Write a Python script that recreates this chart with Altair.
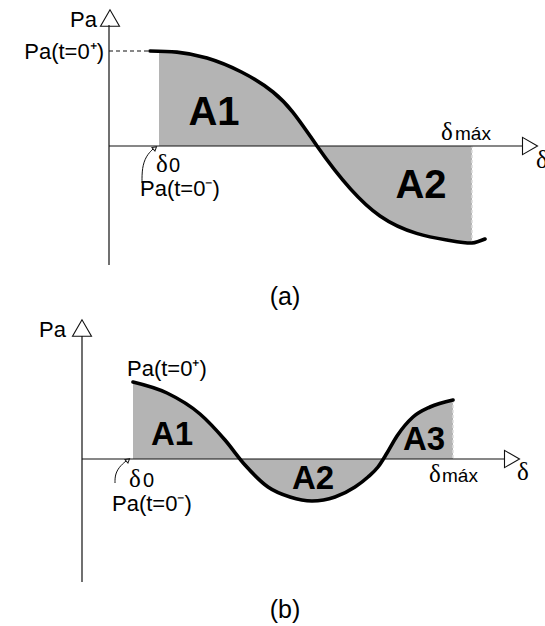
import altair as alt
import pandas as pd

W, H = 545, 626
SANS = "Liberation Sans"
SERIF = "Liberation Serif"
GRAY = "#b4b4b4"

# ---- panel (a): accelerating power curve, decelerating past the crossing
curve_a_x = [150, 207, 273, 317, 380, 447, 472, 485]
curve_a_y = [51, 58, 92, 146, 216, 240, 243, 239]
axis_a = 146          # Pa = 0 level
delta0_a, dmax_a = 159, 472

# ---- panel (b): three areas A1, A2, A3
curve_b_x = [133, 167, 200, 225, 245, 268, 290, 312, 335, 355, 368, 378, 387, 397, 413, 430, 453]
curve_b_y = [382, 393, 414, 440, 465, 487, 497, 501, 497, 487, 477, 467, 453, 436, 417, 407, 400]
axis_b = 459
delta0_b, dmax_b = 133, 453

xs = alt.Scale(domain=[0, W], range=[0, W], nice=False, zero=False)
ys = alt.Scale(domain=[0, H], reverse=True, nice=False, zero=False)


def X(f="x"):
    return alt.X(f"{f}:Q", scale=xs, axis=None)


def Y(f="y"):
    return alt.Y(f"{f}:Q", scale=ys, axis=None)


def area_df(cx, cy, base, lo, hi):
    pts = [(x, y) for x, y in zip(cx, cy) if x <= hi]
    # the shading begins at delta_0, at the height of the curve's first point
    pts = [(max(x, lo), y) for x, y in pts]
    return pd.DataFrame({"x": [p[0] for p in pts], "y": [p[1] for p in pts], "base": base})


layers = []
panels = [(curve_a_x, curve_a_y, axis_a, delta0_a, dmax_a, "natural"),
          (curve_b_x, curve_b_y, axis_b, delta0_b, dmax_b, "monotone")]

# shaded areas
for cx, cy, base, lo, hi, interp in panels:
    layers.append(alt.Chart(area_df(cx, cy, base, lo, hi)).mark_area(
        color=GRAY, interpolate=interp).encode(x=X(), y=Y(), y2="base:Q"))

# light dashed edge at delta_max
edge = pd.DataFrame({"x": [dmax_a, dmax_b], "y": [243, 400], "y2": [axis_a, axis_b]})
layers.append(alt.Chart(edge).mark_rule(color="#dcdcdc", strokeWidth=1.5, strokeDash=[3, 2]).encode(
    x=X(), y=Y(), y2="y2:Q"))

# coordinate axes
axes = pd.DataFrame({
    "x":  [109, 109, 82, 82],
    "y":  [25, axis_a, 336, axis_b],
    "x2": [109, 522, 82, 504],
    "y2": [265, axis_a, 582, axis_b],
})
layers.append(alt.Chart(axes).mark_rule(color="#111", strokeWidth=1.2).encode(
    x=X(), y=Y(), x2="x2:Q", y2="y2:Q"))

# dashed guide to Pa(t=0+)
guide = pd.DataFrame({"x": [109], "x2": [150], "y": [51]})
layers.append(alt.Chart(guide).mark_rule(color="#111", strokeWidth=1.2, strokeDash=[4, 3]).encode(
    x=X(), x2="x2:Q", y=Y()))

# hollow arrowheads at the axis ends
up = pd.DataFrame({"x": [110, 82], "y": [18, 328]})
layers.append(alt.Chart(up).mark_point(shape="triangle-up", size=360, filled=False,
                                       color="#111", strokeWidth=1.1, opacity=1).encode(x=X(), y=Y()))
right = pd.DataFrame({"x": [530, 512], "y": [axis_a, axis_b]})
layers.append(alt.Chart(right).mark_point(shape="triangle-right", size=300, filled=False,
                                          color="#111", strokeWidth=1.1, opacity=1).encode(x=X(), y=Y()))

# power curves
for cx, cy, base, lo, hi, interp in panels:
    layers.append(alt.Chart(pd.DataFrame({"x": cx, "y": cy})).mark_line(
        color="black", strokeWidth=3.6, interpolate=interp, strokeCap="round").encode(x=X(), y=Y()))

# small curved pointers to delta_0
ptr = pd.DataFrame({
    "x": [142, 142, 146, 153, 115, 115, 119, 126],
    "y": [183, 168, 156, 149, 483, 475, 467, 461],
    "g": ["a"] * 4 + ["b"] * 4,
})
layers.append(alt.Chart(ptr).mark_line(color="#111", strokeWidth=1, interpolate="basis").encode(
    x=X(), y=Y(), detail="g:N"))
tips = pd.DataFrame({"x": [155, 128], "y": [148, 460]})
layers.append(alt.Chart(tips).mark_point(shape="triangle-up", angle=50, size=22, filled=False,
                                         color="#111", strokeWidth=1, opacity=1).encode(x=X(), y=Y()))


def text_layer(df, font, size, weight="normal", align="left"):
    return alt.Chart(df).mark_text(font=font, fontSize=size, fontWeight=weight, align=align,
                                   baseline="alphabetic", color="black").encode(
        x=X(), y=Y(), text="t:N")


# sans labels
layers.append(text_layer(pd.DataFrame({
    "x": [97, 104, 66],
    "y": [27, 59, 337],
    "t": ["Pa", "Pa(t=0⁺)", "Pa"],
}), SANS, 22, align="right"))
layers.append(text_layer(pd.DataFrame({
    "x": [140, 127, 112],
    "y": [196, 376, 511],
    "t": ["Pa(t=0⁻)", "Pa(t=0⁺)", "Pa(t=0⁻)"],
}), SANS, 22))
layers.append(text_layer(pd.DataFrame({
    "x": [455, 442],
    "y": [140, 482],
    "t": ["máx", "máx"],
}), SANS, 19))
layers.append(text_layer(pd.DataFrame({
    "x": [169, 143],
    "y": [172, 487],
    "t": ["0", "0"],
}), SANS, 20))

# serif deltas
layers.append(text_layer(pd.DataFrame({
    "x": [441, 156, 536, 429, 129, 517],
    "y": [140, 172, 168, 482, 487, 480],
    "t": ["δ"] * 6,
}), SERIF, 25))

# area names
layers.append(text_layer(pd.DataFrame({
    "x": [214, 421], "y": [125, 198], "t": ["A1", "A2"],
}), SANS, 40, weight="bold", align="center"))
layers.append(text_layer(pd.DataFrame({
    "x": [172, 313, 424], "y": [445, 489, 450], "t": ["A1", "A2", "A3"],
}), SANS, 33, weight="bold", align="center"))

# panel captions
layers.append(text_layer(pd.DataFrame({
    "x": [285, 285], "y": [305, 618], "t": ["(a)", "(b)"],
}), SANS, 25, align="center"))

chart = alt.layer(*layers).properties(
    width=W, height=H, padding=0, autosize=alt.AutoSizeParams(type="none"),
    background="white",
).configure_view(stroke=None)

chart.save("out.html", embed_options={"renderer": "svg", "actions": False})
